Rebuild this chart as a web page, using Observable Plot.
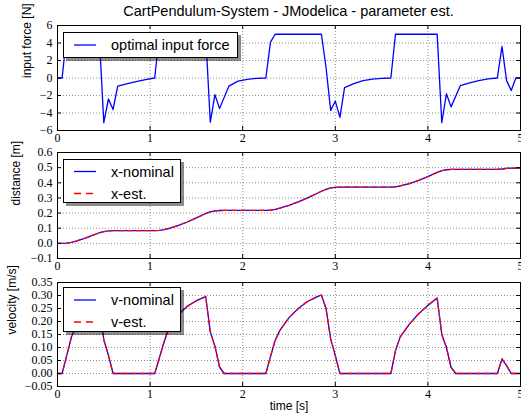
<!DOCTYPE html>
<html>
<head>
<meta charset="utf-8">
<script src="https://cdn.jsdelivr.net/npm/d3@7"></script>
<script src="https://cdn.jsdelivr.net/npm/@observablehq/plot@0.6"></script>
<style>
  html, body { margin: 0; padding: 0; background: #fff; overflow: hidden; }
  #wrap { position: relative; width: 521px; height: 414px; background: #fff; overflow: hidden; }
  .panel { position: absolute; left: 0; }
  .title { position: absolute; left: 57px; width: 463px; top: 3px; text-align: center;
           font-family: "Liberation Sans", Arial, sans-serif; font-size: 14.5px; color: #000; }
  .legend { position: absolute; box-sizing: border-box; background: #fff; border: 1px solid #000;
            box-shadow: 3px 3px 0 rgba(0,0,0,0.45); }
  .legend svg { position: absolute; left: 0; top: 0; overflow: visible; }
</style>
</head>
<body>
<div id="wrap"></div>
<script>
// ---------- data ----------
const titleText = "CartPendulum-System - JModelica - parameter est.";
const xTicks = [0, 1, 2, 3, 4, 5];
const forceTicks = [-6, -4, -2, 0, 2, 4, 6];
const distTicks = [-0.1, 0, 0.1, 0.2, 0.3, 0.4, 0.5, 0.6];
const velTicks = [-0.05, 0, 0.05, 0.1, 0.15, 0.2, 0.25, 0.3, 0.35];

const forceTime = [0, 0.05, 0.1, 0.45, 0.5, 0.55, 0.6, 0.65, 0.8, 0.95, 1.05, 1.1, 1.6, 1.65, 1.7, 1.75, 1.85, 1.95, 2.05, 2.15, 2.25, 2.3, 2.35, 2.85, 2.9, 2.95, 3.0, 3.05, 3.1, 3.2, 3.3, 3.4, 3.5, 3.6, 3.65, 4.1, 4.15, 4.2, 4.25, 4.35, 4.45, 4.55, 4.65, 4.75, 4.8, 4.85, 4.9, 4.95, 5.0];
const forceValue = [0, 0, 5, 5, -5.1, -2.4, -3.6, -0.93, -0.52, -0.18, 0, 5, 5, -5.05, -1.9, -3.5, -0.93, -0.35, -0.15, -0.04, 0, 4.1, 5, 5, 1.2, -3.7, -2.65, -4.5, -1.1, -0.65, -0.3, -0.12, -0.04, 0, 5, 5, -5.1, -1.8, -3.3, -0.88, -0.55, -0.29, -0.1, 0, 3.6, -0.3, -1.43, 0, 0];

const distTime = [0, 0.05, 0.1, 0.15, 0.2, 0.3, 0.4, 0.45, 0.5, 0.55, 0.6, 1.05, 1.1, 1.15, 1.2, 1.3, 1.4, 1.5, 1.6, 1.65, 1.7, 1.75, 1.8, 2.25, 2.3, 2.35, 2.4, 2.5, 2.6, 2.7, 2.8, 2.85, 2.9, 2.95, 3.0, 3.05, 3.6, 3.65, 3.7, 3.8, 3.9, 4.0, 4.1, 4.15, 4.2, 4.25, 4.3, 4.75, 4.8, 4.85, 4.9, 5.0];
const distNominal = [0, 0, 0.002, 0.007, 0.015, 0.035, 0.058, 0.07, 0.078, 0.082, 0.084, 0.084, 0.086, 0.09, 0.097, 0.117, 0.141, 0.168, 0.197, 0.208, 0.214, 0.217, 0.218, 0.218, 0.22, 0.225, 0.232, 0.251, 0.274, 0.3, 0.329, 0.344, 0.357, 0.366, 0.37, 0.371, 0.371, 0.373, 0.379, 0.395, 0.416, 0.441, 0.469, 0.48, 0.486, 0.488, 0.488, 0.488, 0.491, 0.495, 0.497, 0.497];
const distEstimated = [0, 0, 0.002, 0.007, 0.015, 0.035, 0.058, 0.07, 0.078, 0.082, 0.084, 0.084, 0.086, 0.09, 0.097, 0.117, 0.141, 0.168, 0.197, 0.208, 0.214, 0.217, 0.218, 0.218, 0.22, 0.225, 0.232, 0.251, 0.274, 0.3, 0.329, 0.344, 0.357, 0.366, 0.37, 0.371, 0.371, 0.373, 0.379, 0.395, 0.416, 0.441, 0.469, 0.48, 0.486, 0.488, 0.488, 0.488, 0.491, 0.495, 0.497, 0.497];

const velTime = [0, 0.05, 0.1, 0.15, 0.2, 0.25, 0.3, 0.35, 0.4, 0.45, 0.5, 0.55, 0.6, 1.05, 1.1, 1.15, 1.2, 1.3, 1.4, 1.5, 1.6, 1.65, 1.7, 1.75, 1.8, 2.25, 2.3, 2.35, 2.4, 2.5, 2.6, 2.7, 2.8, 2.85, 2.9, 2.95, 3.0, 3.05, 3.6, 3.65, 3.7, 3.8, 3.9, 4.0, 4.1, 4.15, 4.2, 4.25, 4.3, 4.75, 4.8, 4.85, 4.9, 5.0];
const velNominal = [0, 0, 0.07, 0.14, 0.18, 0.205, 0.225, 0.24, 0.25, 0.258, 0.13, 0.07, 0, 0, 0.06, 0.12, 0.172, 0.225, 0.258, 0.28, 0.296, 0.16, 0.105, 0.025, 0, 0, 0.065, 0.127, 0.165, 0.215, 0.25, 0.277, 0.295, 0.302, 0.25, 0.133, 0.069, 0, 0, 0.088, 0.14, 0.19, 0.23, 0.262, 0.29, 0.15, 0.1, 0.024, 0, 0, 0.056, 0.03, 0, 0];
const velEstimated = [0, 0, 0.07, 0.14, 0.18, 0.205, 0.225, 0.24, 0.25, 0.258, 0.13, 0.07, 0, 0, 0.06, 0.12, 0.172, 0.225, 0.258, 0.28, 0.296, 0.16, 0.105, 0.025, 0, 0, 0.065, 0.127, 0.165, 0.215, 0.25, 0.277, 0.295, 0.302, 0.25, 0.133, 0.069, 0, 0, 0.088, 0.14, 0.19, 0.23, 0.262, 0.29, 0.15, 0.1, 0.024, 0, 0, 0.056, 0.03, 0, 0];

const forceLegend = ["optimal input force"];
const distLegend = ["x-nominal", "x-est."];
const velLegend = ["v-nominal", "v-est."];

// ---------- tables ----------
const forceData = forceTime.map((t, i) => ({t, v: forceValue[i]}));
const distNomData = distTime.map((t, i) => ({t, v: distNominal[i]}));
const distEstData = distTime.map((t, i) => ({t, v: distEstimated[i]}));
const velNomData = velTime.map((t, i) => ({t, v: velNominal[i]}));
const velEstData = velTime.map((t, i) => ({t, v: velEstimated[i]}));

const BLUE = "#0000ff", RED = "#ff0000";
const SERIF = "'Liberation Serif', 'Times New Roman', serif";
const SANS = "'Liberation Sans', Arial, sans-serif";

function panel({top, height, mt, mb, yDomain, yTicks, yFormat, series, ylabel, ylabelDx, xPad, xlabel}) {
  const W = 521, ML = 57, MR = 1;
  const fw = W - ML - MR, fh = height - mt - mb;
  const gridStyle = {stroke: "#000", strokeOpacity: 0.55, strokeWidth: 0.8, strokeDasharray: "1,2"};
  const marks = [
    Plot.gridX(xTicks, gridStyle),
    Plot.gridY(yTicks, gridStyle),
    ...series.map(s => Plot.line(s.data, {x: "t", y: "v", stroke: s.color, strokeWidth: 1.3,
      strokeDasharray: s.dash || null})),
    Plot.frame({stroke: "#000", strokeWidth: 1}),
    Plot.tickX(xTicks, {x: d => d, insetTop: fh - 4, stroke: "#000"}),
    Plot.tickX(xTicks, {x: d => d, insetBottom: fh - 4, stroke: "#000"}),
    Plot.tickY(yTicks, {y: d => d, insetLeft: fw - 4, stroke: "#000"}),
    Plot.tickY(yTicks, {y: d => d, insetRight: fw - 4, stroke: "#000"}),
    Plot.axisX(xTicks, {tickSize: 0, tickPadding: xPad, fontSize: 12, fontFamily: SERIF, label: null}),
    Plot.axisY(yTicks, {tickSize: 0, tickPadding: 5, fontSize: 12, fontFamily: SERIF, label: null, tickFormat: yFormat}),
    Plot.text([ylabel], {text: d => d, frameAnchor: "left", rotate: -90, dx: ylabelDx, fontSize: 12, fontFamily: SANS, fill: "#000"})
  ];
  if (xlabel) marks.push(Plot.text([xlabel], {text: d => d, frameAnchor: "bottom", lineAnchor: "middle", dy: 20, fontSize: 12, fontFamily: SANS, fill: "#000"}));
  const svg = Plot.plot({
    width: W, height, marginLeft: ML, marginRight: MR, marginTop: mt, marginBottom: mb,
    x: {domain: [0, 5]}, y: {domain: yDomain},
    style: {background: "transparent", overflow: "visible"},
    marks
  });
  const div = document.createElement("div");
  div.className = "panel";
  div.style.top = top + "px";
  div.appendChild(svg);
  return div;
}

function legend({left, top, width, height, entries, rows}) {
  const div = document.createElement("div");
  div.className = "legend";
  Object.assign(div.style, {left: left + "px", top: top + "px", width: width + "px", height: height + "px"});
  const ns = "http://www.w3.org/2000/svg";
  const svg = document.createElementNS(ns, "svg");
  svg.setAttribute("width", width); svg.setAttribute("height", height);
  entries.forEach((e, i) => {
    const y = rows[i];
    const ln = document.createElementNS(ns, "line");
    ln.setAttribute("x1", 10); ln.setAttribute("x2", 32);
    ln.setAttribute("y1", y); ln.setAttribute("y2", y);
    ln.setAttribute("stroke", e.color); ln.setAttribute("stroke-width", 1.3);
    if (e.dash) ln.setAttribute("stroke-dasharray", e.dash);
    svg.appendChild(ln);
    const tx = document.createElementNS(ns, "text");
    tx.setAttribute("x", 47); tx.setAttribute("y", y);
    tx.setAttribute("dy", "0.35em");
    tx.setAttribute("font-family", SANS); tx.setAttribute("font-size", "14.5px");
    tx.textContent = e.label;
    svg.appendChild(tx);
  });
  div.appendChild(svg);
  return div;
}

const wrap = document.getElementById("wrap");

wrap.appendChild(panel({top: 0, height: 145, mt: 25, mb: 15, yDomain: [-6, 6], yTicks: forceTicks,
  yFormat: d3.format("d"), series: [{data: forceData, color: BLUE}], ylabel: "input force [N]", ylabelDx: -30, xPad: 3}));
wrap.appendChild(panel({top: 140, height: 133, mt: 12, mb: 15, yDomain: [-0.1, 0.6], yTicks: distTicks,
  yFormat: d3.format(".1f"), series: [{data: distNomData, color: BLUE}, {data: distEstData, color: RED, dash: "5,4"}],
  ylabel: "distance [m]", ylabelDx: -41, xPad: 3}));
wrap.appendChild(panel({top: 270, height: 144, mt: 12, mb: 28, yDomain: [-0.05, 0.35], yTicks: velTicks,
  yFormat: d3.format(".2f"), series: [{data: velNomData, color: BLUE}, {data: velEstData, color: RED, dash: "5,4"}],
  ylabel: "velocity [m/s]", ylabelDx: -45, xPad: 3, xlabel: "time [s]"}));

const title = document.createElement("div");
title.className = "title";
title.textContent = titleText;
wrap.appendChild(title);

wrap.appendChild(legend({left: 63, top: 32, width: 175, height: 26,
  entries: [{label: forceLegend[0], color: BLUE}], rows: [12]}));
wrap.appendChild(legend({left: 63, top: 159, width: 118, height: 44,
  entries: [{label: distLegend[0], color: BLUE}, {label: distLegend[1], color: RED, dash: "7,5"}], rows: [11.5, 33.5]}));
wrap.appendChild(legend({left: 63, top: 287, width: 118, height: 45,
  entries: [{label: velLegend[0], color: BLUE}, {label: velLegend[1], color: RED, dash: "7,5"}], rows: [12, 34]}));
</script>
</body>
</html>
